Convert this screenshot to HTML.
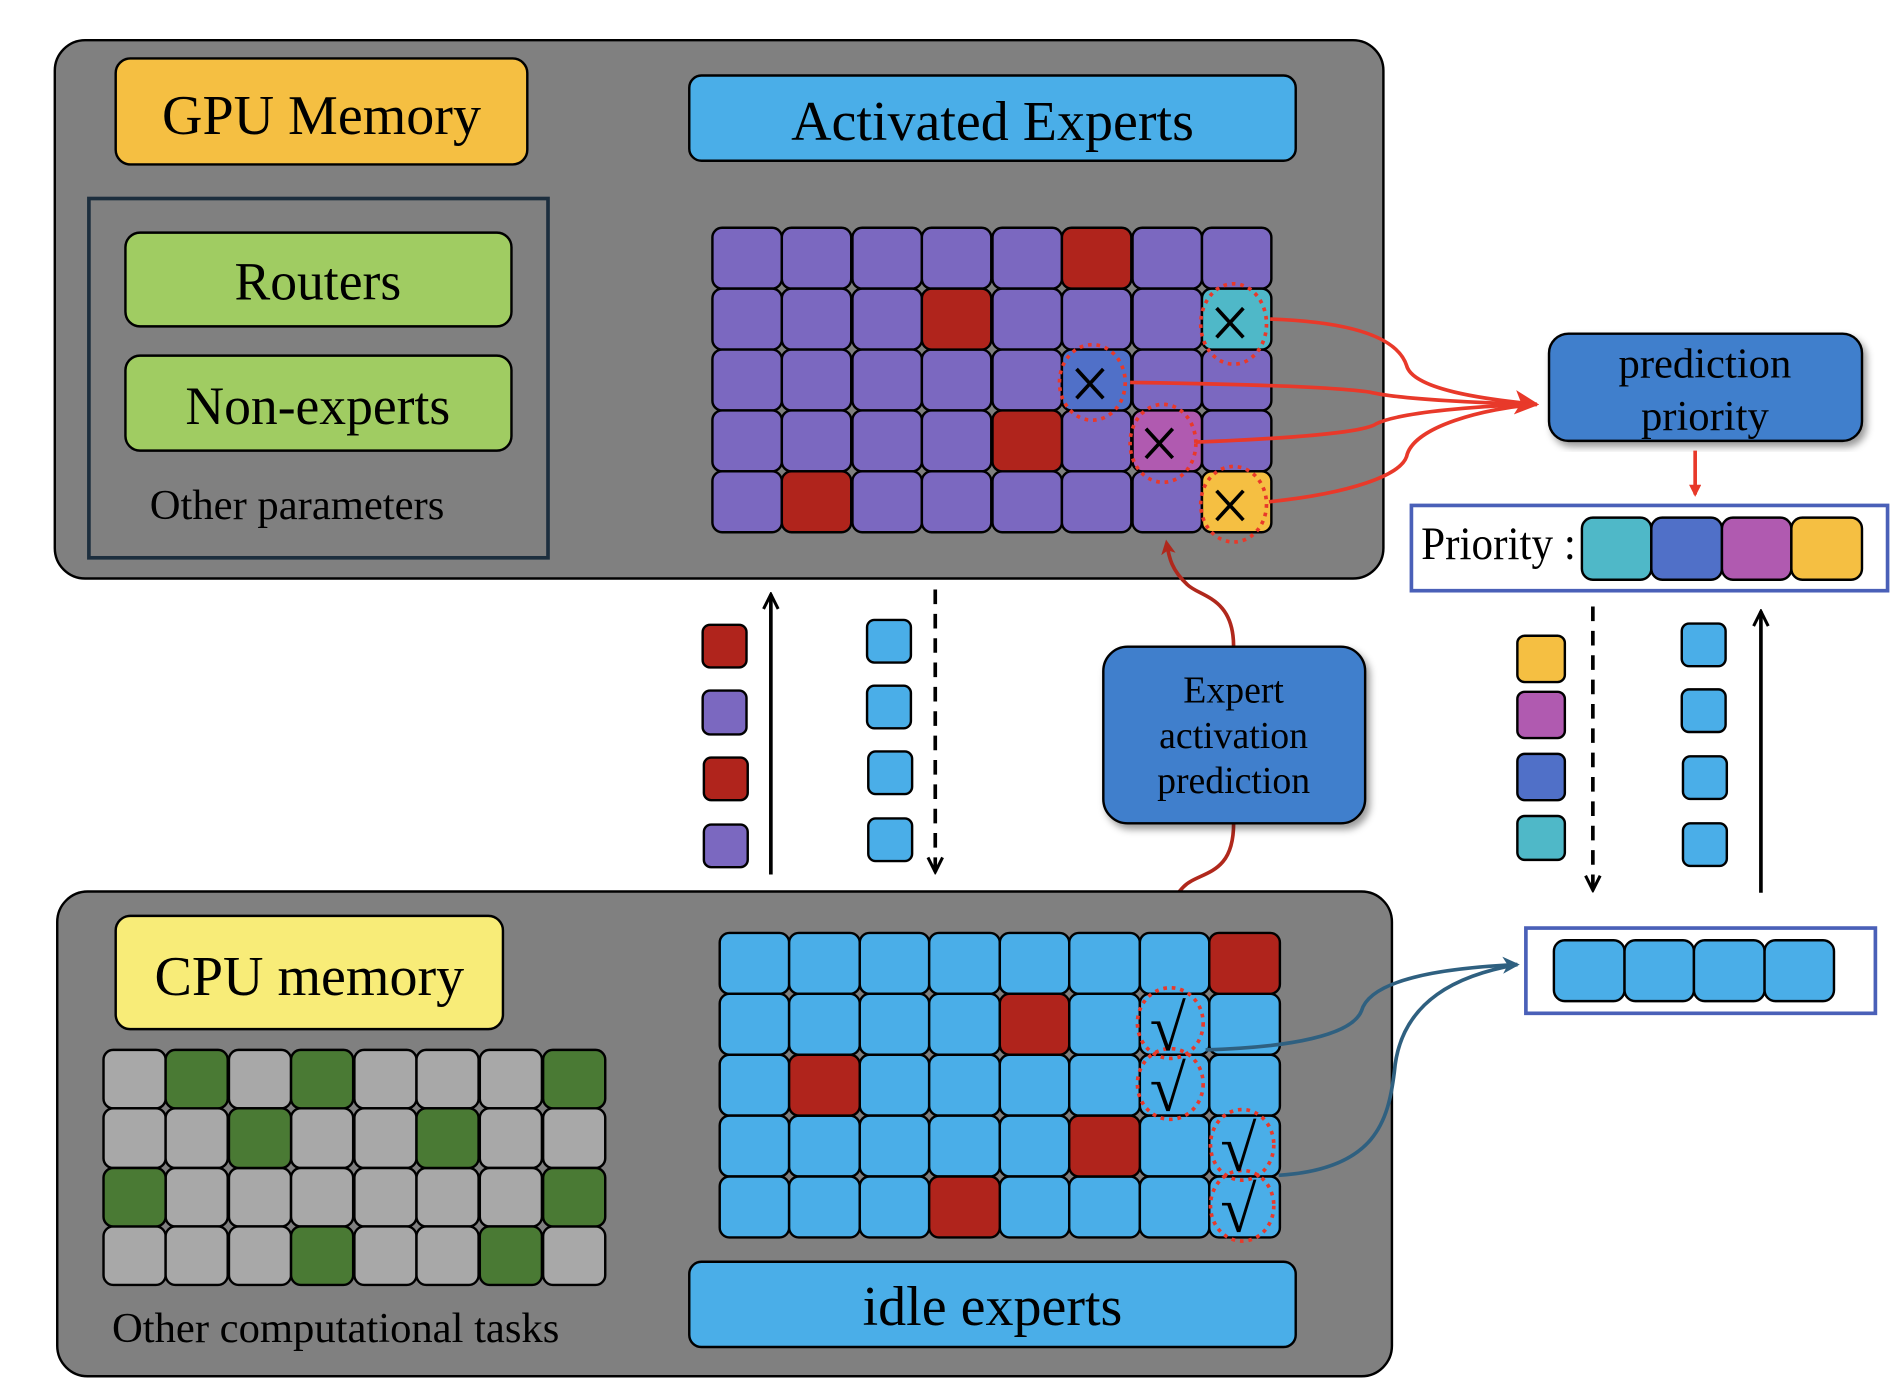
<!DOCTYPE html>
<html><head><style>
html,body{margin:0;padding:0;background:#fff;}
svg{display:block;}
text{font-family:"Liberation Serif",serif;fill:#000;}
</style></head><body>
<svg width="1890" height="1386" viewBox="0 0 1552 1138" preserveAspectRatio="none" xmlns="http://www.w3.org/2000/svg">
<defs>
<marker id="ar" markerWidth="10" markerHeight="10" refX="8" refY="5" orient="auto" markerUnits="userSpaceOnUse"><path d="M0,0 L10,5 L0,10 Z" fill="#E8392A"/></marker>
<marker id="ard" markerWidth="12" markerHeight="12" refX="9" refY="6" orient="auto" markerUnits="userSpaceOnUse"><path d="M0,0 L12,6 L0,12 L3,6 Z" fill="#B0281C"/></marker>
<marker id="arb" markerWidth="14" markerHeight="14" refX="12" refY="7" orient="auto" markerUnits="userSpaceOnUse"><path d="M0,0 L14,7 L0,14 L4,7 Z" fill="#2F6080"/></marker>
<marker id="ak" markerWidth="16" markerHeight="16" refX="14" refY="8" orient="auto" markerUnits="userSpaceOnUse"><path d="M2,2 L14,8 L2,14" fill="none" stroke="#000" stroke-width="2.5"/></marker>
<marker id="arr" markerWidth="20" markerHeight="20" refX="18" refY="10" orient="auto" markerUnits="userSpaceOnUse"><path d="M0,0 L20,10 L0,20 L5,10 Z" fill="#E8392A"/></marker>
<filter id="sh"><feDropShadow dx="3" dy="4" stdDeviation="3" flood-opacity="0.4"/></filter>
</defs>

<rect x="45" y="33" width="1091" height="442" rx="25" fill="#808080" stroke="#000" stroke-width="2"/>
<rect x="95" y="48" width="338" height="87" rx="12" fill="#F5BF42" stroke="#000" stroke-width="2"/>
<text x="264" y="110" font-size="46" text-anchor="middle">GPU Memory</text>
<rect x="566" y="62" width="498" height="70" rx="10" fill="#4AAEE8" stroke="#000" stroke-width="2"/>
<text x="815" y="115" font-size="46" text-anchor="middle">Activated Experts</text>
<rect x="73" y="163" width="377" height="295" fill="none" stroke="#1c2e3e" stroke-width="3"/>
<rect x="103" y="191" width="317" height="77" rx="12" fill="#A0CC62" stroke="#000" stroke-width="2"/>
<text x="261" y="246" font-size="44" text-anchor="middle">Routers</text>
<rect x="103" y="292" width="317" height="78" rx="12" fill="#A0CC62" stroke="#000" stroke-width="2"/>
<text x="261" y="348" font-size="44" text-anchor="middle">Non-experts</text>
<text x="123" y="426" font-size="35">Other parameters</text>

<g stroke="#000" stroke-width="2">
<g fill="#7B68C0">
<rect x="585" y="187" width="57" height="50" rx="8"/><rect x="642" y="187" width="57" height="50" rx="8"/><rect x="700" y="187" width="57" height="50" rx="8"/><rect x="757" y="187" width="57" height="50" rx="8"/><rect x="815" y="187" width="57" height="50" rx="8"/><rect x="930" y="187" width="57" height="50" rx="8"/><rect x="987" y="187" width="57" height="50" rx="8"/>
<rect x="585" y="237" width="57" height="50" rx="8"/><rect x="642" y="237" width="57" height="50" rx="8"/><rect x="700" y="237" width="57" height="50" rx="8"/><rect x="815" y="237" width="57" height="50" rx="8"/><rect x="872" y="237" width="57" height="50" rx="8"/><rect x="930" y="237" width="57" height="50" rx="8"/>
<rect x="585" y="287" width="57" height="50" rx="8"/><rect x="642" y="287" width="57" height="50" rx="8"/><rect x="700" y="287" width="57" height="50" rx="8"/><rect x="757" y="287" width="57" height="50" rx="8"/><rect x="815" y="287" width="57" height="50" rx="8"/><rect x="930" y="287" width="57" height="50" rx="8"/><rect x="987" y="287" width="57" height="50" rx="8"/>
<rect x="585" y="337" width="57" height="50" rx="8"/><rect x="642" y="337" width="57" height="50" rx="8"/><rect x="700" y="337" width="57" height="50" rx="8"/><rect x="757" y="337" width="57" height="50" rx="8"/><rect x="872" y="337" width="57" height="50" rx="8"/><rect x="987" y="337" width="57" height="50" rx="8"/>
<rect x="585" y="387" width="57" height="50" rx="8"/><rect x="700" y="387" width="57" height="50" rx="8"/><rect x="757" y="387" width="57" height="50" rx="8"/><rect x="815" y="387" width="57" height="50" rx="8"/><rect x="872" y="387" width="57" height="50" rx="8"/><rect x="930" y="387" width="57" height="50" rx="8"/>
</g>
<g fill="#B0241C">
<rect x="872" y="187" width="57" height="50" rx="8"/><rect x="757" y="237" width="57" height="50" rx="8"/><rect x="815" y="337" width="57" height="50" rx="8"/><rect x="642" y="387" width="57" height="50" rx="8"/>
</g>
<rect x="987" y="237" width="57" height="50" rx="8" fill="#4FB8C8"/>
<rect x="872" y="287" width="57" height="50" rx="8" fill="#5070C8"/>
<rect x="930" y="337" width="57" height="50" rx="8" fill="#B05AB0"/>
<rect x="987" y="387" width="57" height="50" rx="8" fill="#F5BF42"/>
</g>
<g fill="none" stroke="#E8392A" stroke-width="3" stroke-dasharray="3,4">
<ellipse cx="1013" cy="266" rx="27" ry="33"/><ellipse cx="897" cy="314" rx="27" ry="31"/><ellipse cx="955" cy="364" rx="27" ry="32"/><ellipse cx="1013" cy="414" rx="27" ry="31"/>
</g>
<g stroke="#000" stroke-width="3">
<path d="M999,253 L1021,277 M1021,253 L999,277"/>
<path d="M884,303 L906,327 M906,303 L884,327"/>
<path d="M941,352 L963,376 M963,352 L941,376"/>
<path d="M999,403 L1021,427 M1021,403 L999,427"/>
</g>
<g fill="none" stroke="#E8392A" stroke-width="3">
<path d="M1043,262 C1130,265 1150,285 1155,300 C1160,320 1220,328 1262,332" marker-end="url(#arr)"/>
<path d="M928,314 C1000,315 1090,317 1125,322 C1150,328 1220,331 1262,332"/>
<path d="M982,363 C1060,360 1120,355 1130,348 C1150,338 1220,333 1262,332"/>
<path d="M1042,412 C1110,405 1150,390 1155,375 C1160,350 1220,335 1262,332"/>
</g>
<rect x="1272" y="274" width="257" height="88" rx="16" fill="#3F7FCC" stroke="#000" stroke-width="2" filter="url(#sh)"/>
<text x="1400" y="310" font-size="35" text-anchor="middle">prediction</text>
<text x="1400" y="353" font-size="35" text-anchor="middle">priority</text>
<line x1="1392" y1="370" x2="1392" y2="406" stroke="#E8392A" stroke-width="3" marker-end="url(#ar)"/>
<rect x="1159" y="415" width="391" height="70" fill="#fff" stroke="#4A60B8" stroke-width="3"/>
<text x="1167" y="459" font-size="38" textLength="127" lengthAdjust="spacingAndGlyphs">Priority :</text>
<g stroke="#000" stroke-width="2">
<rect x="1299" y="425" width="57" height="51" rx="9" fill="#4FB8C8"/><rect x="1356" y="425" width="58" height="51" rx="9" fill="#5070C8"/><rect x="1414" y="425" width="57" height="51" rx="9" fill="#B05AB0"/><rect x="1471" y="425" width="58" height="51" rx="9" fill="#F5BF42"/>
</g>

<line x1="633" y1="718" x2="633" y2="488" stroke="#000" stroke-width="3" marker-end="url(#ak)"/>
<line x1="768" y1="484" x2="768" y2="716" stroke="#000" stroke-width="3" stroke-dasharray="12,8" marker-end="url(#ak)"/>
<g stroke="#000" stroke-width="2">
<rect x="577" y="513" width="36" height="35" rx="6" fill="#B0241C"/><rect x="577" y="567" width="36" height="36" rx="6" fill="#7B68C0"/><rect x="578" y="622" width="36" height="35" rx="6" fill="#B0241C"/><rect x="578" y="677" width="36" height="35" rx="6" fill="#7B68C0"/>
<rect x="712" y="509" width="36" height="35" rx="6" fill="#4AAEE8"/><rect x="712" y="563" width="36" height="35" rx="6" fill="#4AAEE8"/><rect x="713" y="617" width="36" height="35" rx="6" fill="#4AAEE8"/><rect x="713" y="672" width="36" height="35" rx="6" fill="#4AAEE8"/>
</g>

<path d="M1013,531 C1013,490 985,490 975,480 C962,468 960,458 958,446" fill="none" stroke="#B0281C" stroke-width="3" marker-end="url(#ard)"/>
<path d="M1013,676 C1013,720 985,715 972,728 C962,738 960,748 958,760" fill="none" stroke="#B0281C" stroke-width="3" marker-end="url(#ard)"/>
<rect x="906" y="531" width="215" height="145" rx="20" fill="#3F7FCC" stroke="#000" stroke-width="2" filter="url(#sh)"/>
<text x="1013" y="577" font-size="31" text-anchor="middle">Expert</text>
<text x="1013" y="614" font-size="31" text-anchor="middle">activation</text>
<text x="1013" y="651" font-size="31" text-anchor="middle">prediction</text>

<g stroke="#000" stroke-width="2">
<rect x="1246" y="522" width="39" height="38" rx="6" fill="#F5BF42"/><rect x="1246" y="568" width="39" height="38" rx="6" fill="#B05AB0"/><rect x="1246" y="619" width="39" height="38" rx="6" fill="#5070C8"/><rect x="1246" y="670" width="39" height="36" rx="6" fill="#4FB8C8"/>
<rect x="1381" y="512" width="36" height="35" rx="6" fill="#4AAEE8"/><rect x="1381" y="566" width="36" height="35" rx="6" fill="#4AAEE8"/><rect x="1382" y="621" width="36" height="35" rx="6" fill="#4AAEE8"/><rect x="1382" y="676" width="36" height="35" rx="6" fill="#4AAEE8"/>
</g>
<line x1="1308" y1="498" x2="1308" y2="731" stroke="#000" stroke-width="3" stroke-dasharray="12,8" marker-end="url(#ak)"/>
<line x1="1446" y1="733" x2="1446" y2="502" stroke="#000" stroke-width="3" marker-end="url(#ak)"/>
<rect x="1253" y="762" width="287" height="70" fill="#fff" stroke="#4A60B8" stroke-width="3"/>
<g stroke="#000" stroke-width="2" fill="#4AAEE8">
<rect x="1276" y="772" width="58" height="50" rx="9"/><rect x="1334" y="772" width="57" height="50" rx="9"/><rect x="1391" y="772" width="58" height="50" rx="9"/><rect x="1449" y="772" width="57" height="50" rx="9"/>
</g>

<rect x="47" y="732" width="1096" height="398" rx="25" fill="#808080" stroke="#000" stroke-width="2"/>
<rect x="95" y="752" width="318" height="93" rx="12" fill="#F8EC78" stroke="#000" stroke-width="2"/>
<text x="254" y="817" font-size="46" text-anchor="middle">CPU memory</text>
<g stroke="#000" stroke-width="2">
<g fill="#A8A8A8">
<rect x="85" y="862" width="51" height="48" rx="8"/><rect x="188" y="862" width="51" height="48" rx="8"/><rect x="291" y="862" width="51" height="48" rx="8"/><rect x="342" y="862" width="51" height="48" rx="8"/><rect x="394" y="862" width="51" height="48" rx="8"/>
<rect x="85" y="910" width="51" height="49" rx="8"/><rect x="136" y="910" width="51" height="49" rx="8"/><rect x="239" y="910" width="51" height="49" rx="8"/><rect x="291" y="910" width="51" height="49" rx="8"/><rect x="394" y="910" width="51" height="49" rx="8"/><rect x="446" y="910" width="51" height="49" rx="8"/>
<rect x="136" y="959" width="51" height="48" rx="8"/><rect x="188" y="959" width="51" height="48" rx="8"/><rect x="239" y="959" width="51" height="48" rx="8"/><rect x="291" y="959" width="51" height="48" rx="8"/><rect x="342" y="959" width="51" height="48" rx="8"/><rect x="394" y="959" width="51" height="48" rx="8"/>
<rect x="85" y="1007" width="51" height="48" rx="8"/><rect x="136" y="1007" width="51" height="48" rx="8"/><rect x="188" y="1007" width="51" height="48" rx="8"/><rect x="291" y="1007" width="51" height="48" rx="8"/><rect x="342" y="1007" width="51" height="48" rx="8"/><rect x="446" y="1007" width="51" height="48" rx="8"/>
</g>
<g fill="#4A7A34">
<rect x="136" y="862" width="51" height="48" rx="8"/><rect x="239" y="862" width="51" height="48" rx="8"/><rect x="446" y="862" width="51" height="48" rx="8"/>
<rect x="188" y="910" width="51" height="49" rx="8"/><rect x="342" y="910" width="51" height="49" rx="8"/>
<rect x="85" y="959" width="51" height="48" rx="8"/><rect x="446" y="959" width="51" height="48" rx="8"/>
<rect x="239" y="1007" width="51" height="48" rx="8"/><rect x="394" y="1007" width="51" height="48" rx="8"/>
</g>
</g>
<text x="92" y="1102" font-size="35">Other computational tasks</text>

<g stroke="#000" stroke-width="2">
<g fill="#4AAEE8">
<rect x="591" y="766" width="57" height="50" rx="8"/><rect x="648" y="766" width="58" height="50" rx="8"/><rect x="706" y="766" width="57" height="50" rx="8"/><rect x="763" y="766" width="58" height="50" rx="8"/><rect x="821" y="766" width="57" height="50" rx="8"/><rect x="878" y="766" width="58" height="50" rx="8"/><rect x="936" y="766" width="57" height="50" rx="8"/>
<rect x="591" y="816" width="57" height="50" rx="8"/><rect x="648" y="816" width="58" height="50" rx="8"/><rect x="706" y="816" width="57" height="50" rx="8"/><rect x="763" y="816" width="58" height="50" rx="8"/><rect x="878" y="816" width="58" height="50" rx="8"/><rect x="936" y="816" width="57" height="50" rx="8"/><rect x="993" y="816" width="58" height="50" rx="8"/>
<rect x="591" y="866" width="57" height="50" rx="8"/><rect x="706" y="866" width="57" height="50" rx="8"/><rect x="763" y="866" width="58" height="50" rx="8"/><rect x="821" y="866" width="57" height="50" rx="8"/><rect x="878" y="866" width="58" height="50" rx="8"/><rect x="936" y="866" width="57" height="50" rx="8"/><rect x="993" y="866" width="58" height="50" rx="8"/>
<rect x="591" y="916" width="57" height="50" rx="8"/><rect x="648" y="916" width="58" height="50" rx="8"/><rect x="706" y="916" width="57" height="50" rx="8"/><rect x="763" y="916" width="58" height="50" rx="8"/><rect x="821" y="916" width="57" height="50" rx="8"/><rect x="936" y="916" width="57" height="50" rx="8"/><rect x="993" y="916" width="58" height="50" rx="8"/>
<rect x="591" y="966" width="57" height="50" rx="8"/><rect x="648" y="966" width="58" height="50" rx="8"/><rect x="706" y="966" width="57" height="50" rx="8"/><rect x="821" y="966" width="57" height="50" rx="8"/><rect x="878" y="966" width="58" height="50" rx="8"/><rect x="936" y="966" width="57" height="50" rx="8"/><rect x="993" y="966" width="58" height="50" rx="8"/>
</g>
<g fill="#B0241C">
<rect x="993" y="766" width="58" height="50" rx="8"/><rect x="821" y="816" width="57" height="50" rx="8"/><rect x="648" y="866" width="58" height="50" rx="8"/><rect x="878" y="916" width="58" height="50" rx="8"/><rect x="763" y="966" width="58" height="50" rx="8"/>
</g>
</g>
<g fill="none" stroke="#E8392A" stroke-width="3" stroke-dasharray="3,4">
<ellipse cx="961" cy="840" rx="27" ry="29"/><ellipse cx="961" cy="890" rx="27" ry="29"/><ellipse cx="1020" cy="940" rx="26" ry="29"/><ellipse cx="1020" cy="990" rx="26" ry="29"/>
</g>
<g font-size="54" text-anchor="middle">
<text x="959" y="862">√</text><text x="959" y="912">√</text><text x="1017" y="961">√</text><text x="1017" y="1011">√</text>
</g>
<g fill="none" stroke="#2F6080" stroke-width="3">
<path d="M990,862 C1060,860 1110,850 1118,830 C1125,805 1180,795 1246,792" marker-end="url(#arb)"/>
<path d="M1050,965 C1130,960 1140,920 1145,880 C1150,820 1200,800 1246,792"/>
</g>
<rect x="566" y="1036" width="498" height="70" rx="10" fill="#4AAEE8" stroke="#000" stroke-width="2"/>
<text x="815" y="1088" font-size="46" text-anchor="middle">idle experts</text>
</svg>
</body></html>
